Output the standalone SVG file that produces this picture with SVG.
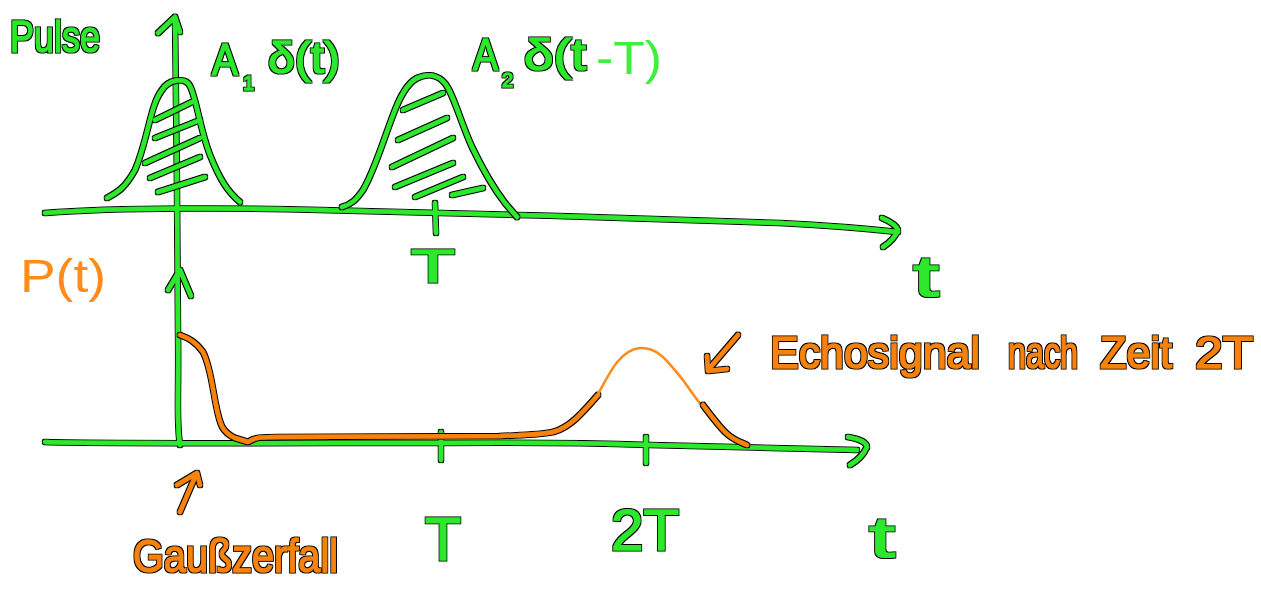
<svg xmlns="http://www.w3.org/2000/svg" width="1261" height="602" viewBox="0 0 1261 602">
<style>
.g{fill:none;stroke:#2de82d;stroke-width:4.5;stroke-linecap:round;stroke-linejoin:round}
.o{fill:none;stroke:#f7820f;stroke-width:4.5;stroke-linecap:round;stroke-linejoin:round}
.ot{fill:none;stroke:#ff8c1a;stroke-width:2.5;stroke-linecap:round;stroke-linejoin:round}
.tg{fill:#2de82d;font-family:"Liberation Sans",Arial,sans-serif;stroke:#2de82d;stroke-width:1.2}
.tgl{fill:#3cf03c;font-family:"Liberation Sans",Arial,sans-serif}
.to{fill:#f7820f;font-family:"Liberation Sans",Arial,sans-serif;stroke:#f7820f;stroke-width:1.2}
.tol{fill:#ff8c1a;font-family:"Liberation Sans",Arial,sans-serif}
.ol{filter:url(#ol)}
</style>
<defs>
<filter id="ol" filterUnits="userSpaceOnUse" x="0" y="0" width="1261" height="602">
<feMorphology in="SourceAlpha" operator="dilate" radius="1.3" result="d"/>
<feFlood flood-color="#000"/>
<feComposite in2="d" operator="in" result="k"/>
<feMerge><feMergeNode in="k"/><feMergeNode in="SourceGraphic"/></feMerge>
</filter>
</defs>
<rect width="1261" height="602" fill="#fff"/>

<g id="axes" class="ol">
<path class="g" d="M45,213 C120,207 250,208 320,210 C450,213 650,218 780,223 C840,226 870,229 898,232"/>
<path class="g" d="M882,218 Q896,224 898,230 Q894,240 883,247"/>
<path class="g" d="M175,17 C176,100 178,250 178,330 C179,400 176,420 180,445"/>
<path class="g" d="M158,33 L175,17 L180,32"/>
<path class="g" d="M168,290 L180,270 L191,296"/>
<path class="g" d="M435,203 L436,233"/>
<path class="g" d="M45,442 C120,444 300,443 440,443 C550,442 620,444 650,445 C750,448 820,449 857,450"/>
<path class="g" d="M848,437 Q866,440 867,447 Q862,458 850,465"/>
<path class="g" d="M441,432 L441,460"/>
<path class="g" d="M646,437 L646,463"/>
</g>

<g id="pulse1" class="ol">
<path class="g" d="M107,198 C118,192 125,188 135,170 C148,140 150,105 162,90 C168,80 185,76 190,86 C197,100 200,130 210,155 C220,180 228,192 240,202"/>
<path class="g" d="M155,120 L192,102 M155,138 L200,120 M145,163 L200,138 M150,178 L200,157 M158,192 L205,177"/>
</g>

<g id="pulse2" class="ol">
<path class="g" d="M342,207 C352,204 356,200 363,190 C375,170 385,135 395,110 C402,92 410,80 420,77 C430,73 442,76 448,88 C455,100 462,125 472,147 C483,170 495,190 505,203 L517,217"/>
<path class="g" d="M403,110 L443,93 M398,140 L447,118 M392,167 L453,138 M395,187 L453,163 M415,197 L463,177 M452,195 L483,188"/>
</g>

<g id="signal">
<path class="o ol" d="M180,335 C188,338 195,341 203,352 C210,365 212,385 216,405 C220,425 222,432 235,438 L248,442 C255,437 262,437 280,437 L500,436 C520,435 540,435 553,432 C570,428 585,410 598,395"/>
<path class="ot" d="M596,398 C610,372 620,350 640,348 C660,347 670,365 683,380 C690,390 697,400 705,410"/>
<path class="o ol" d="M703,405 C712,417 718,425 725,432 C733,440 740,442 747,445"/>
</g>

<g id="connectors" class="ol">
<path class="o" d="M738,335 L708,370 M707,356 L708,371 L727,369"/>
<path class="o" d="M180,512 L195,477 M177,485 L197,473 L200,485"/>
</g>

<g id="labels-green" class="ol">
<text class="tg" x="10" y="52" font-size="44" textLength="90" lengthAdjust="spacingAndGlyphs">Pulse</text>
<text class="tg" x="212" y="75" font-size="44" textLength="26" lengthAdjust="spacingAndGlyphs">A</text>
<text class="tg" x="243" y="90" font-size="20">1</text>
<text class="tg" x="268" y="73" font-size="44" textLength="72" lengthAdjust="spacingAndGlyphs">δ(t)</text>
<text class="tg" x="473" y="70" font-size="44" textLength="25" lengthAdjust="spacingAndGlyphs">A</text>
<text class="tg" x="502" y="87" font-size="20">2</text>
<text class="tg" x="524" y="70" font-size="44" textLength="62" lengthAdjust="spacingAndGlyphs">δ(t</text>
<text class="tg" x="411" y="282" font-size="46" textLength="44" lengthAdjust="spacingAndGlyphs">T</text>
<text class="tg" x="913" y="296" font-size="58" textLength="26" lengthAdjust="spacingAndGlyphs">t</text>
<text class="tg" x="425" y="560" font-size="62" textLength="36" lengthAdjust="spacingAndGlyphs">T</text>
<text class="tg" x="611" y="550" font-size="58" textLength="68" lengthAdjust="spacingAndGlyphs">2T</text>
<text class="tg" x="869" y="557" font-size="58" textLength="26" lengthAdjust="spacingAndGlyphs">t</text>
</g>
<g id="label-T-light">
<text class="tgl" x="596" y="74" font-size="46" textLength="66" lengthAdjust="spacingAndGlyphs">-T)</text>
</g>

<g id="labels-orange">
<text class="tol" x="20" y="292" font-size="46" textLength="86" lengthAdjust="spacingAndGlyphs">P(t)</text>
<g class="ol">
<text class="to" x="770" y="368" font-size="44" textLength="210" lengthAdjust="spacingAndGlyphs">Echosignal</text>
<text class="to" x="1008" y="368" font-size="44" textLength="70" lengthAdjust="spacingAndGlyphs">nach</text>
<text class="to" x="1100" y="368" font-size="44" textLength="72" lengthAdjust="spacingAndGlyphs">Zeit</text>
<text class="to" x="1195" y="368" font-size="44" textLength="58" lengthAdjust="spacingAndGlyphs">2T</text>
<text class="to" x="133" y="572" font-size="46" textLength="205" lengthAdjust="spacingAndGlyphs">Gaußzerfall</text>
</g>
</g>
</svg>
